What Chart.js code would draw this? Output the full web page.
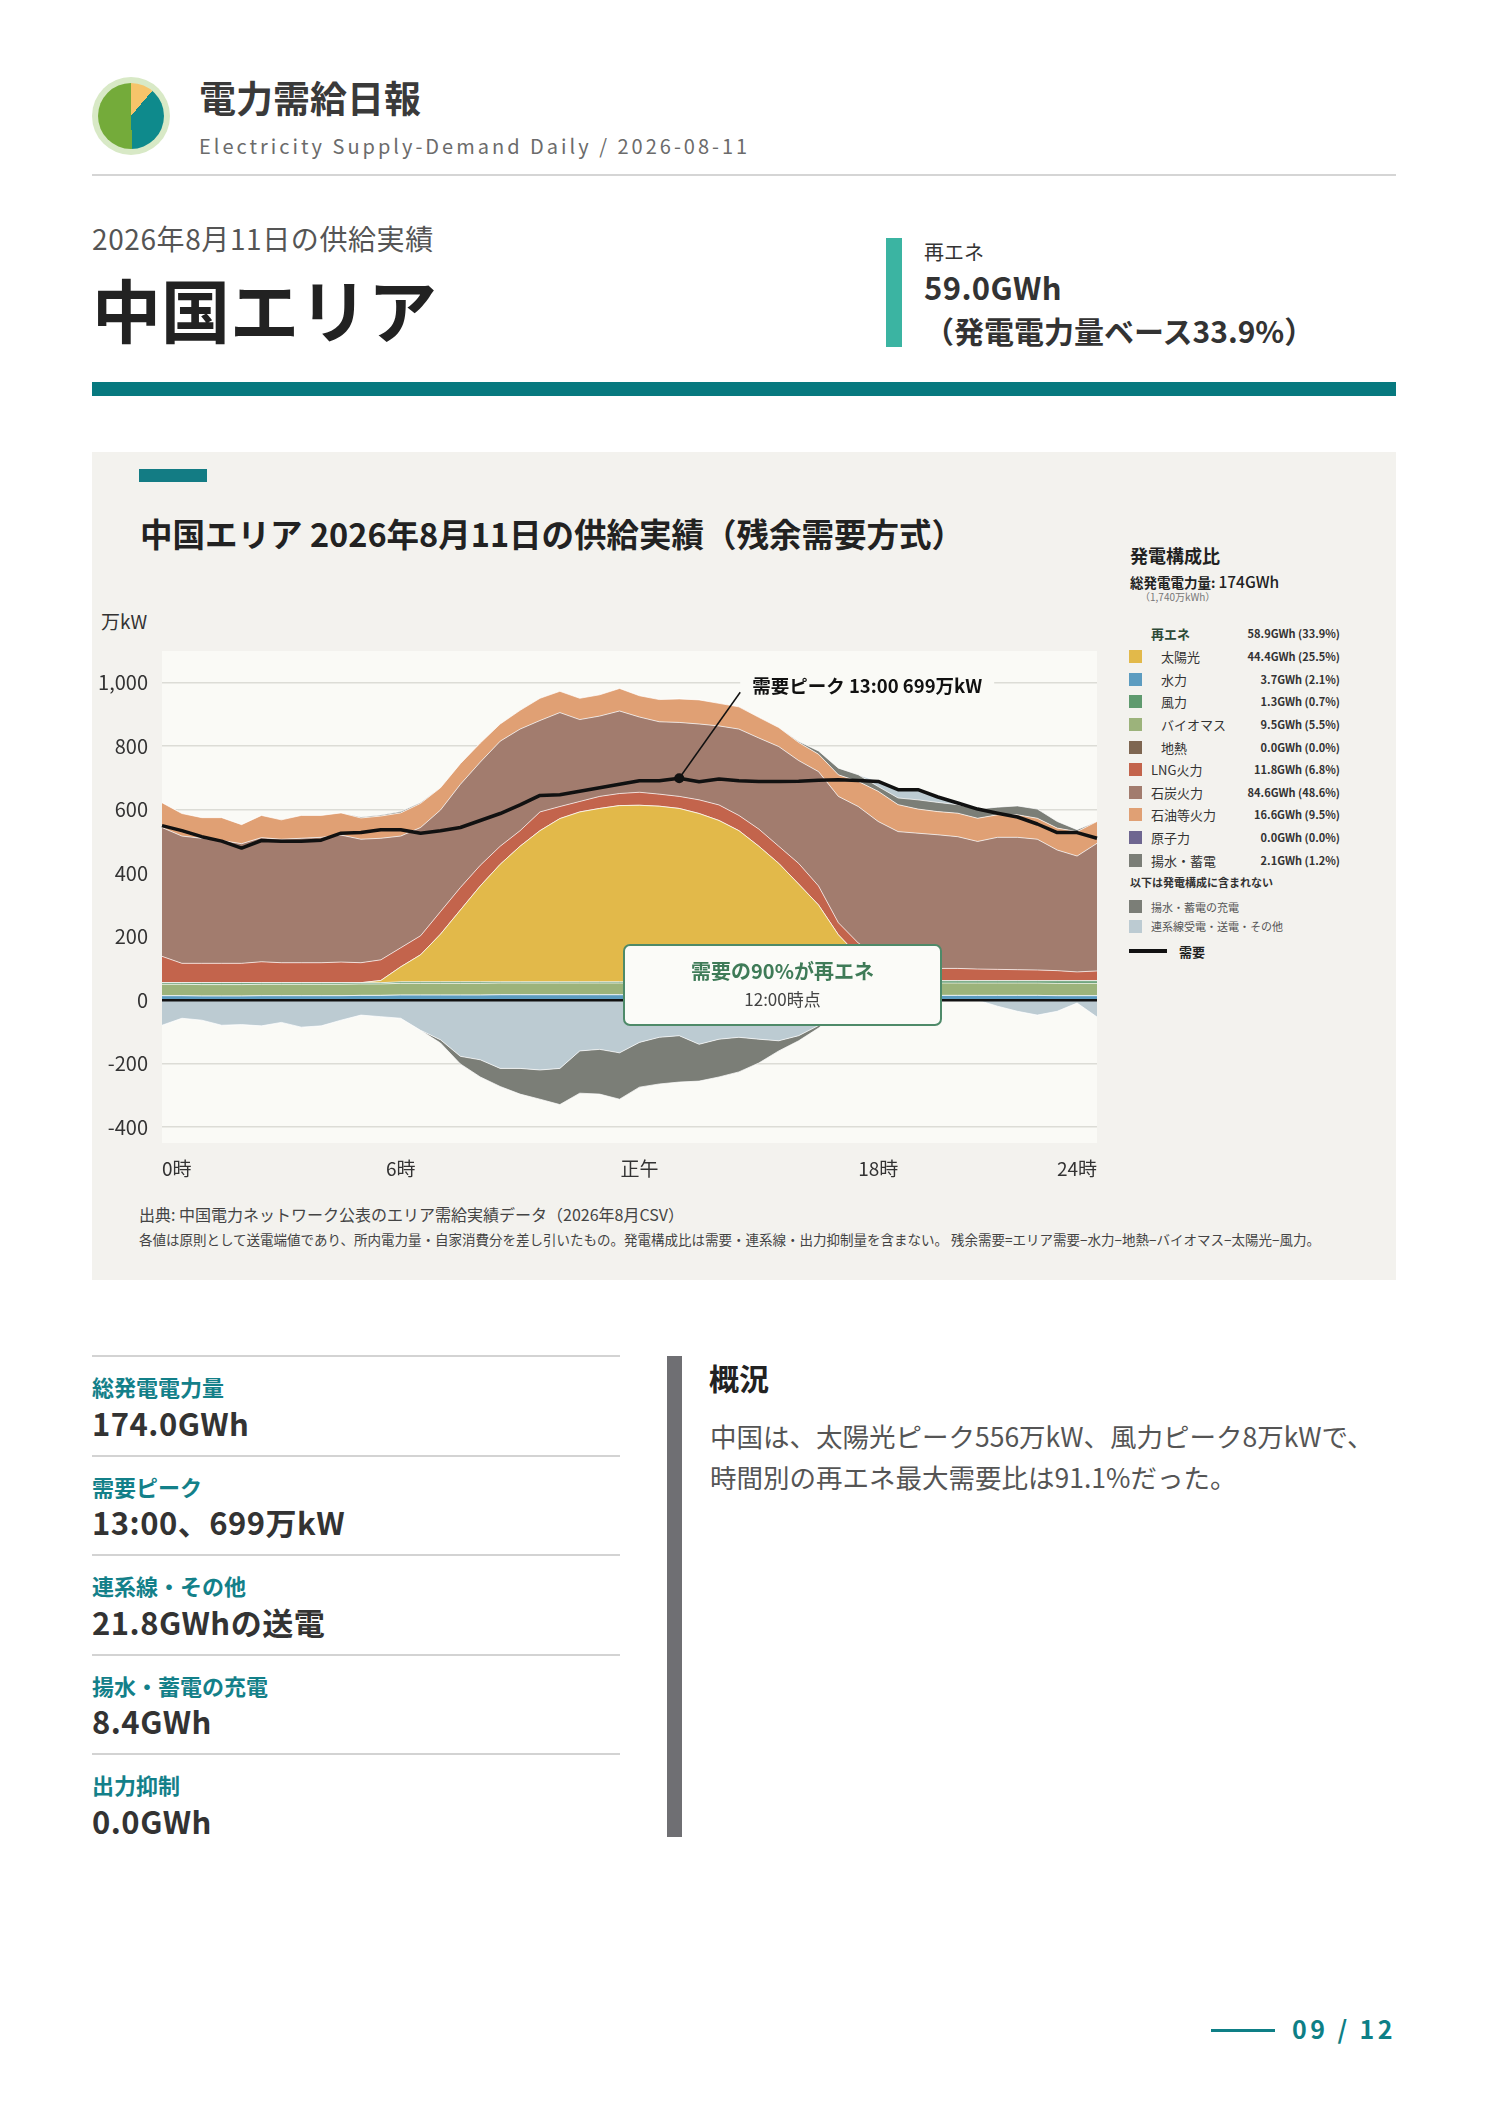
<!DOCTYPE html>
<html lang="ja">
<head>
<meta charset="utf-8">
<title>電力需給日報 中国エリア 2026-08-11</title>
<script src="https://cdn.jsdelivr.net/npm/chart.js@4.4.1/dist/chart.umd.min.js"></script>
<style>
  html, body { margin: 0; padding: 0; background: #fff; }
  body { position: relative; width: 1488px; height: 2105px; overflow: hidden;
         font-family: 'Noto Sans CJK JP', 'Noto Sans', sans-serif; color: #333; }
  .t { position: absolute; white-space: nowrap; line-height: 1; }
  .b { position: absolute; }
  .kpi-label { font-size: 22px; font-weight: 700; color: #138089; }
  .kpi-value { font-size: 31px; font-weight: 700; color: #333; letter-spacing: 0.5px; }
  .rule { position: absolute; left: 92px; width: 528px; height: 2px; background: #d3d3d3; }
  .sw { position: absolute; width: 13px; height: 13px; }
  .lg { font-size: 13px; color: #333; }
  .lv { font-size: 11px; font-weight: 700; color: #333; text-align: right; }
</style>
</head>
<body>

<!-- header -->
<div class="b" style="left:92px;top:77px;width:78px;height:78px;border-radius:50%;background:#d8e9c6;"></div>
<div class="b" style="left:98px;top:83px;width:66px;height:66px;border-radius:50%;
  background:conic-gradient(#f6c46a 0deg 40deg, #0e8a8c 40deg 178deg, #74ab3a 178deg 360deg);"></div>
<div class="t" style="left:199px;top:79px;font-size:37px;font-weight:700;color:#3a3a3a;">電力需給日報</div>
<div class="t" style="left:199px;top:136px;font-size:20px;color:#6b6b6b;letter-spacing:3px;">Electricity Supply-Demand Daily / 2026-08-11</div>
<div class="b" style="left:92px;top:174px;width:1304px;height:2px;background:#d5d5d5;"></div>

<div class="t" style="left:92px;top:224px;font-size:28px;color:#555;letter-spacing:0.6px;">2026年8月11日の供給実績</div>
<div class="t" style="left:92px;top:274px;font-size:69px;font-weight:700;color:#222;">中国エリア</div>
<div class="b" style="left:886px;top:238px;width:16px;height:109px;background:#3bb4a2;"></div>
<div class="t" style="left:924px;top:242px;font-size:20px;color:#333;">再エネ</div>
<div class="t" style="left:924px;top:270.5px;font-size:31px;font-weight:700;color:#333;letter-spacing:0.4px;">59.0GWh</div>
<div class="t" style="left:924px;top:314.5px;font-size:30px;font-weight:700;color:#333;">（発電電力量ベース33.9%）</div>
<div class="b" style="left:92px;top:382px;width:1304px;height:14px;background:#07797f;"></div>

<!-- chart panel -->
<div class="b" style="left:92px;top:452px;width:1304px;height:828px;background:#f3f2ee;"></div>
<div class="b" style="left:139px;top:469px;width:68px;height:13px;background:#137c84;"></div>
<div class="t" style="left:140px;top:517px;font-size:32.5px;font-weight:700;color:#222;">中国エリア 2026年8月11日の供給実績（残余需要方式）</div>
<div class="t" style="left:101px;top:611px;font-size:19px;color:#333;">万kW</div>
<canvas id="chart" width="1020" height="600" style="position:absolute;left:92px;top:600px;width:1020px;height:600px;"></canvas>

<div class="b" style="left:623px;top:944px;width:319px;height:82px;box-sizing:border-box;border:2px solid #4e8a69;border-radius:7px;background:#fbfbf8;"></div>
<div class="t" style="left:623px;width:319px;text-align:center;top:961px;font-size:20px;font-weight:700;color:#3f7b58;">需要の90%が再エネ</div>
<div class="t" style="left:623px;width:319px;text-align:center;top:989.5px;font-size:17px;color:#444;">12:00時点</div>

<div id="legend"></div>

<div class="t" style="left:139px;top:1206px;font-size:16px;color:#444;">出典: 中国電力ネットワーク公表のエリア需給実績データ（2026年8月CSV）</div>
<div class="t" style="left:139px;top:1233px;font-size:13.5px;color:#444;">各値は原則として送電端値であり、所内電力量・自家消費分を差し引いたもの。発電構成比は需要・連系線・出力抑制量を含まない。 残余需要=エリア需要−水力−地熱−バイオマス−太陽光−風力。</div>

<!-- KPIs -->
<div id="kpis"></div>
<div class="b" style="left:667px;top:1356px;width:15px;height:481px;background:#6f6f73;"></div>
<div class="t" style="left:709px;top:1362px;font-size:30px;font-weight:700;color:#222;">概況</div>
<div class="t" style="left:710px;top:1423px;font-size:26.5px;color:#555;">中国は、太陽光ピーク556万kW、風力ピーク8万kWで、</div>
<div class="t" style="left:710px;top:1464px;font-size:26.5px;color:#555;">時間別の再エネ最大需要比は91.1%だった。</div>

<!-- page number -->
<div class="b" style="left:1211px;top:2029px;width:64px;height:3px;background:#0e7f86;"></div>
<div class="t" style="left:1292px;top:2016px;font-size:25px;font-weight:700;color:#0e7f86;letter-spacing:3.4px;">09 / 12</div>

<script>
// 30-minute slots, 万kW
const timeLabels = ['0:00','0:30','1:00','1:30','2:00','2:30','3:00','3:30','4:00','4:30','5:00','5:30',
  '6:00','6:30','7:00','7:30','8:00','8:30','9:00','9:30','10:00','10:30','11:00','11:30',
  '12:00','12:30','13:00','13:30','14:00','14:30','15:00','15:30','16:00','16:30','17:00','17:30',
  '18:00','18:30','19:00','19:30','20:00','20:30','21:00','21:30','22:00','22:30','23:00','23:30'];
const xTickText = { 0: '0時', 12: '6時', 24: '正午', 36: '18時', 47: '24時' };
const yTicks = [-400, -200, 0, 200, 400, 600, 800, 1000];

const hydro = [14,14,13,13,13,14,14,14,14,14,15,15,16,16,16,16,16,17,17,17,17,17,17,17,
  17,17,17,16,16,16,16,16,16,16,15,15,15,15,15,15,15,15,15,15,15,14,14,14];
const geothermal = [0,0,0,0,0,0,0,0,0,0,0,0,0,0,0,0,0,0,0,0,0,0,0,0,
  0,0,0,0,0,0,0,0,0,0,0,0,0,0,0,0,0,0,0,0,0,0,0,0];
const biomass = [36,36,36,36,36,36,36,36,36,36,36,36,37,37,37,37,37,37,37,37,37,37,37,37,
  37,37,37,37,37,37,37,37,37,37,39,39,39,39,39,39,39,39,39,39,39,39,39,39];
const wind = [5,5,6,6,6,5,5,5,5,5,4,4,5,5,5,5,5,4,4,4,4,4,4,4,
  4,4,4,5,5,5,5,5,5,5,7,7,7,7,7,7,7,7,7,7,7,8,8,8];
const solar = [0,0,0,0,0,0,0,0,0,0,0,7,47,85,150,226,302,370,427,476,514,535,546,555,
  556,553,546,530,508,476,427,373,308,242,145,79,34,9,1,0,0,0,0,0,0,0,0,0];
const nuclear = [0,0,0,0,0,0,0,0,0,0,0,0,0,0,0,0,0,0,0,0,0,0,0,0,
  0,0,0,0,0,0,0,0,0,0,0,0,0,0,0,0,0,0,0,0,0,0,0,0];
const lng = [83,61,61,61,61,66,63,63,63,65,63,65,60,60,71,71,65,57,49,59,38,33,38,38,
  41,38,38,43,49,48,54,54,65,60,38,40,45,40,38,39,39,37,36,35,34,32,28,31];
const coal = [406,401,394,387,377,391,389,392,395,400,389,383,352,341,320,325,325,331,320,288,296,258,253,260,
  237,228,233,239,249,272,287,314,324,360,398,430,423,421,426,421,415,402,416,417,412,380,365,402];
const oil = [78,71,65,72,60,70,61,72,69,70,67,70,73,76,70,65,60,54,59,70,67,67,67,71,
  67,70,74,76,71,70,65,60,57,55,68,79,95,85,76,73,74,73,71,71,66,69,77,69];
const pumpedGen = [0,0,0,0,0,0,0,0,0,0,3,3,4,3,0,0,0,0,0,0,0,0,0,0,
  0,0,0,0,0,0,0,0,3,10,21,21,15,21,29,29,27,29,24,28,29,21,6,0];
const tieImport = [0,0,0,0,0,0,0,0,0,0,0,0,0,0,0,0,0,0,0,0,0,0,0,0,
  0,0,0,0,0,0,0,0,0,0,0,0,16,26,32,17,5,0,0,0,0,0,0,0];
const tieExport = [-79,-57,-63,-79,-77,-81,-70,-85,-81,-63,-47,-52,-57,-95,-125,-177,-188,-215,-215,-220,-215,-160,-155,-166,
  -133,-117,-112,-139,-123,-117,-123,-128,-112,-80,-37,-18,0,0,0,0,0,0,-19,-35,-47,-35,-9,-53];
const pumpedCharge = [0,0,0,0,0,0,0,0,0,0,0,0,0,0,-10,-24,-54,-57,-81,-92,-114,-133,-141,-146,
  -141,-147,-146,-116,-119,-109,-75,-32,-16,-8,0,0,0,0,0,0,0,0,0,0,0,0,0,0];
const demand = [550,534,515,501,479,503,501,501,504,526,528,537,537,526,534,544,566,588,615,645,647,658,669,680,
  691,691,699,688,697,691,689,689,690,693,694,692,689,663,663,640,621,602,589,577,555,528,528,510];

// legend table (発電構成比)
const mixNames = ['太陽光','水力','風力','バイオマス','地熱','LNG火力','石炭火力','石油等火力','原子力','揚水・蓄電'];
const mixValues = ['44.4GWh (25.5%)','3.7GWh (2.1%)','1.3GWh (0.7%)','9.5GWh (5.5%)','0.0GWh (0.0%)',
  '11.8GWh (6.8%)','84.6GWh (48.6%)','16.6GWh (9.5%)','0.0GWh (0.0%)','2.1GWh (1.2%)'];
const mixIndent = [true, true, true, true, true, false, false, false, false, false];
const renewTotal = '58.9GWh (33.9%)';

const kpiLabels = ['総発電電力量','需要ピーク','連系線・その他','揚水・蓄電の充電','出力抑制'];
const kpiValues = ['174.0GWh','13:00、699万kW','21.8GWhの送電','8.4GWh','0.0GWh'];

const COLORS = {
  solar: '#e2b94a', hydro: '#5c9cc0', wind: '#5f9a6e', biomass: '#9cb37b', geo: '#7e6651',
  lng: '#c3644c', coal: '#a27c6e', oil: '#e0a074', nuclear: '#6e6690', pumped: '#7b7e77', tie: '#bccbd2'
};
const mixColors = [COLORS.solar, COLORS.hydro, COLORS.wind, COLORS.biomass, COLORS.geo,
  COLORS.lng, COLORS.coal, COLORS.oil, COLORS.nuclear, COLORS.pumped];

const FONT = "'Noto Sans CJK JP', 'Noto Sans', sans-serif";
Chart.defaults.font.family = FONT;

function el(html) {
  const d = document.createElement('div');
  d.innerHTML = html;
  return d.firstElementChild;
}

// legend panel
const legend = document.getElementById('legend');
function addText(left, cy, size, style, text) {
  legend.appendChild(el(`<div class="t" style="left:${left}px;top:${cy - size / 2}px;font-size:${size}px;${style || ''}">${text}</div>`));
}
addText(1130, 555, 18, 'font-weight:700;color:#222;', '発電構成比');
legend.appendChild(el(`<div class="t" style="left:1130px;top:574px;font-size:13.5px;font-weight:700;color:#222;">総発電電力量: <span style="font-size:15.5px;font-weight:500;">174GWh</span></div>`));
addText(1140, 597, 10, 'color:#777;', '（1,740万kWh）');
addText(1151, 633, 13, 'font-weight:700;color:#2d4a37;', '再エネ');
legend.appendChild(el(`<div class="t lv" style="left:1200px;width:140px;top:627.5px;">${renewTotal}</div>`));
mixNames.forEach((name, i) => {
  const cy = 656.7 + i * 22.6;
  legend.appendChild(el(`<div class="sw" style="left:1129px;top:${cy - 6.5}px;background:${mixColors[i]};"></div>`));
  legend.appendChild(el(`<div class="t lg" style="left:${mixIndent[i] ? 1161 : 1151}px;top:${cy - 6.5}px;">${name}</div>`));
  legend.appendChild(el(`<div class="t lv" style="left:1200px;width:140px;top:${cy - 5.5}px;">${mixValues[i]}</div>`));
});
addText(1130, 882, 11, 'font-weight:700;color:#333;', '以下は発電構成に含まれない');
legend.appendChild(el(`<div class="sw" style="left:1129px;top:900px;background:${COLORS.pumped};"></div>`));
addText(1151, 907, 11, 'color:#555;', '揚水・蓄電の充電');
legend.appendChild(el(`<div class="sw" style="left:1129px;top:919.5px;background:${COLORS.tie};"></div>`));
addText(1151, 926, 11, 'color:#555;', '連系線受電・送電・その他');
legend.appendChild(el(`<div class="b" style="left:1129px;top:949px;width:38px;height:3.5px;background:#111;"></div>`));
addText(1179, 951, 13, 'font-weight:700;color:#222;', '需要');

// KPI list
const kpis = document.getElementById('kpis');
kpiLabels.forEach((lab, i) => {
  const top = 1355 + i * 99.6;
  kpis.appendChild(el(`<div class="rule" style="top:${top}px;"></div>`));
  kpis.appendChild(el(`<div class="t kpi-label" style="left:92px;top:${top + 31 - 11}px;">${lab}</div>`));
  kpis.appendChild(el(`<div class="t kpi-value" style="left:92px;top:${top + 67 - 15.5}px;">${kpiValues[i]}</div>`));
});

// chart
function area(label, data, color, stack, fill) {
  return {
    label, data, stack, fill,
    backgroundColor: color,
    borderColor: 'rgba(255,255,255,0.7)',
    borderWidth: 1,
    pointRadius: 0
  };
}

const peakIdx = demand.indexOf(Math.max(...demand));

const plotBg = {
  id: 'plotBg',
  beforeDraw(chart) {
    const { ctx, chartArea: a } = chart;
    ctx.save();
    ctx.fillStyle = '#fafaf6';
    ctx.fillRect(a.left, a.top, a.right - a.left, a.bottom - a.top);
    ctx.restore();
  }
};

const overlay = {
  id: 'overlay',
  afterDatasetsDraw(chart) {
    const { ctx, chartArea: a, scales: { x, y } } = chart;
    ctx.save();
    // zero line
    const y0 = y.getPixelForValue(0);
    ctx.strokeStyle = '#111';
    ctx.lineWidth = 2.5;
    ctx.beginPath();
    ctx.moveTo(a.left, y0);
    ctx.lineTo(a.right, y0);
    ctx.stroke();

    // demand peak marker + label
    const px = x.getPixelForValue(peakIdx);
    const py = y.getPixelForValue(demand[peakIdx]);
    const text = `需要ピーク ${timeLabels[peakIdx]} ${demand[peakIdx]}万kW`;
    ctx.font = `700 18.5px ${FONT}`;
    const w = ctx.measureText(text).width;
    const lx = px + 73, ly = py - 92;
    ctx.fillStyle = '#fafaf6';
    ctx.fillRect(lx - 12, ly - 13, w + 24, 26);
    ctx.strokeStyle = '#111';
    ctx.lineWidth = 1.5;
    ctx.beginPath();
    ctx.moveTo(px, py);
    ctx.lineTo(px + 61, py - 86);
    ctx.stroke();
    ctx.fillStyle = '#111';
    ctx.beginPath();
    ctx.arc(px, py, 5, 0, Math.PI * 2);
    ctx.fill();
    ctx.textBaseline = 'middle';
    ctx.textAlign = 'left';
    ctx.fillText(text, lx, ly);
    ctx.restore();
  }
};

new Chart(document.getElementById('chart'), {
  type: 'line',
  data: {
    labels: timeLabels,
    datasets: [
      { label: '需要', data: demand, stack: 'demand', fill: false, borderColor: '#111', borderWidth: 3.5,
        pointRadius: 0, borderJoinStyle: 'round' },
      area('水力', hydro, COLORS.hydro, 'pos', 'origin'),
      area('地熱', geothermal, COLORS.geo, 'pos', '-1'),
      area('バイオマス', biomass, COLORS.biomass, 'pos', '-1'),
      area('風力', wind, COLORS.wind, 'pos', '-1'),
      area('太陽光', solar, COLORS.solar, 'pos', '-1'),
      area('原子力', nuclear, COLORS.nuclear, 'pos', '-1'),
      area('LNG火力', lng, COLORS.lng, 'pos', '-1'),
      area('石炭火力', coal, COLORS.coal, 'pos', '-1'),
      area('石油等火力', oil, COLORS.oil, 'pos', '-1'),
      area('揚水・蓄電', pumpedGen, COLORS.pumped, 'pos', '-1'),
      area('連系線受電', tieImport, COLORS.tie, 'pos', '-1'),
      area('連系線送電・その他', tieExport, COLORS.tie, 'neg', 'origin'),
      area('揚水・蓄電の充電', pumpedCharge, COLORS.pumped, 'neg', '-1')
    ]
  },
  options: {
    responsive: false,
    animation: false,
    devicePixelRatio: 1,
    layout: { padding: { top: 51, right: 15, left: 0, bottom: 0 } },
    plugins: { legend: { display: false }, tooltip: { enabled: false } },
    elements: { line: { tension: 0 } },
    scales: {
      x: {
        grid: { display: false },
        border: { display: false },
        ticks: {
          autoSkip: false, maxRotation: 0, minRotation: 0, align: 'inner', padding: 6,
          color: '#333', font: { size: 19 },
          callback: (v, i) => xTickText[i] || ''
        },
        afterFit: s => { s.height = 57; }
      },
      y: {
        stacked: true,
        min: -450, max: 1100,
        border: { display: false },
        grid: { color: '#dcdcd6', lineWidth: 1.5, drawTicks: false },
        afterBuildTicks: s => { s.ticks = yTicks.map(v => ({ value: v })); },
        ticks: {
          padding: 14, color: '#333', font: { size: 20 },
          callback: v => v.toLocaleString('en-US')
        },
        afterFit: s => { s.width = 70; }
      }
    }
  },
  plugins: [plotBg, overlay]
});
</script>
</body>
</html>
